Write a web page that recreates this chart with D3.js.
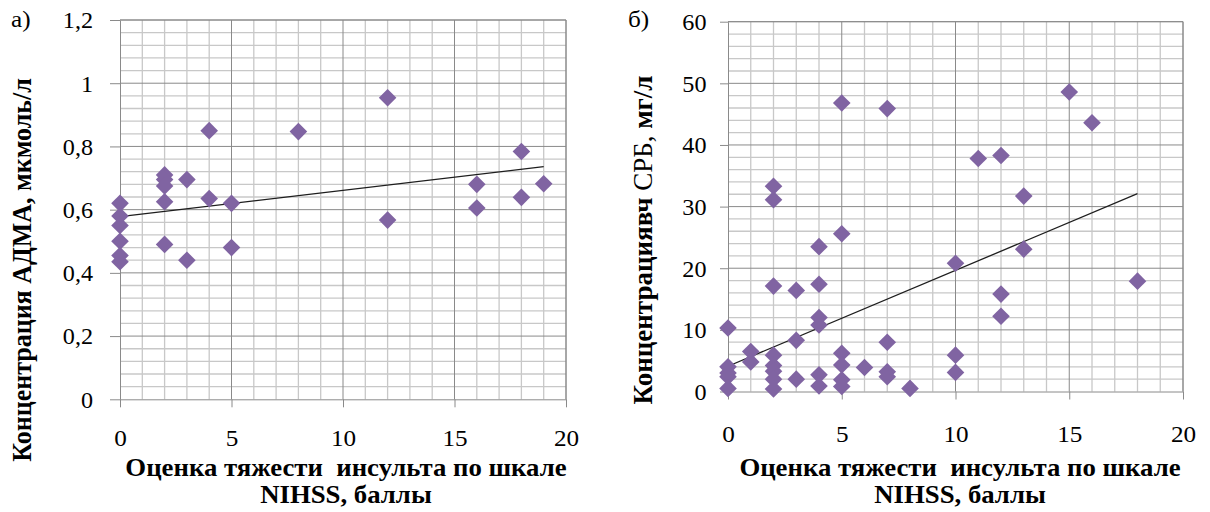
<!DOCTYPE html>
<html lang="ru">
<head>
<meta charset="utf-8">
<script src="https://cdn.jsdelivr.net/npm/d3@7"></script>
<style>
  html, body { margin: 0; padding: 0; background: #fff; }
  svg { display: block; }
  text { font-family: "Liberation Serif", "Times New Roman", serif; fill: #000; white-space: pre; }
</style>
</head>
<body>
<svg id="chart" width="1210" height="512"></svg>
<script>
// ---- Panel а): ADMA vs NIHSS ----
const admaX = [0, 0, 0, 0, 0, 0, 2, 2, 2, 2, 2, 3, 3, 4, 4, 5, 5, 8, 12, 12, 16, 16, 18, 18, 19];
const admaY = [0.62, 0.58, 0.55, 0.50, 0.455, 0.435, 0.71, 0.695, 0.675, 0.625, 0.49, 0.695, 0.44,
               0.85, 0.635, 0.62, 0.48, 0.847, 0.954, 0.567, 0.68, 0.605, 0.784, 0.639, 0.682];
const admaTrendX = [0, 19];
const admaTrendY = [0.578, 0.736];
const admaYTicks = [0, 0.2, 0.4, 0.6, 0.8, 1, 1.2];
const admaYLabels = ["0", "0,2", "0,4", "0,6", "0,8", "1", "1,2"];

// ---- Panel б): hs-CRP vs NIHSS ----
const crpX = [0, 0, 0, 0, 0, 1, 1, 2, 2, 2, 2, 2, 2, 2, 2, 3, 3, 3, 4, 4, 4, 4, 4, 4,
              5, 5, 5, 5, 5, 5, 6, 7, 7, 7, 7, 8, 10, 10, 10, 11, 12, 12, 12, 13, 13, 15, 16, 18];
const crpY = [10.3, 4.0, 3.0, 2.4, 0.5, 6.5, 4.8, 33.3, 31.1, 17.1, 5.9, 4.2, 3.3, 2.0, 0.4,
              16.4, 8.3, 2.0, 23.5, 17.4, 12.0, 10.8, 2.7, 0.9, 46.8, 25.6, 6.2, 4.3, 1.9, 0.8,
              3.9, 45.9, 8.0, 3.2, 2.4, 0.5, 20.8, 5.9, 3.1, 37.8, 38.3, 15.8, 12.2, 31.7, 23.1,
              48.6, 43.6, 17.9];
const crpTrendX = [0, 18];
const crpTrendY = [4.1, 32.1];
const crpYTicks = [0, 10, 20, 30, 40, 50, 60];
const crpYLabels = ["0", "10", "20", "30", "40", "50", "60"];

// ---- shared x axis ----
const nihssTicks = [0, 5, 10, 15, 20];
const nihssLabels = ["0", "5", "10", "15", "20"];
const xTitle1 = "Оценка тяжести  инсульта по шкале";
const xTitle2 = "NIHSS, баллы";

const FONT = '"Liberation Serif", "Times New Roman", serif';
const MARK = "#8064A2";
const MAJOR = "#8a8a8a";
const MINOR = "#c8c8c8";
const SX = 1.05; // slight horizontal widening of glyphs

const svg = d3.select("#chart");

function stretchX(sel, ax, ay) {
  sel.attr("transform", `translate(${ax},${ay}) scale(${SX},1) translate(${-ax},${-ay})`);
}

function drawPanel(p) {
  const g = svg.append("g");
  const x = d3.scaleLinear().domain([0, 20]).range([p.left, p.right]);
  const y = d3.scaleLinear().domain([0, p.yMax]).range([p.bottom, p.top]);

  // minor grid
  const xMinor = d3.range(0, 20.001, 1).filter(v => v % 5 !== 0);
  const yMinor = d3.range(0, p.yMax + p.yMinor / 2, p.yMinor)
    .filter(v => Math.abs(v / p.yMajor - Math.round(v / p.yMajor)) > 1e-6);
  g.append("g").selectAll("line").data(xMinor).join("line")
    .attr("x1", d => x(d)).attr("x2", d => x(d)).attr("y1", p.top).attr("y2", p.bottom)
    .attr("stroke", MINOR).attr("stroke-width", 1.3);
  g.append("g").selectAll("line").data(yMinor).join("line")
    .attr("x1", p.left).attr("x2", p.right).attr("y1", d => y(d)).attr("y2", d => y(d))
    .attr("stroke", MINOR).attr("stroke-width", 1.3);
  // major grid
  g.append("g").selectAll("line").data(nihssTicks.slice(1)).join("line")
    .attr("x1", d => x(d)).attr("x2", d => x(d)).attr("y1", p.top).attr("y2", p.bottom)
    .attr("stroke", MAJOR).attr("stroke-width", 1);
  g.append("g").selectAll("line").data(p.yTicks.slice(1)).join("line")
    .attr("x1", p.left).attr("x2", p.right).attr("y1", d => y(d)).attr("y2", d => y(d))
    .attr("stroke", MAJOR).attr("stroke-width", 1);

  // axes
  const ya = g.append("g").attr("transform", `translate(${p.left},0)`)
    .call(d3.axisLeft(y).tickValues(p.yTicks).tickSize(p.yTickLen).tickSizeOuter(0)
      .tickFormat((d, i) => p.yLabels[i]));
  const xa = g.append("g").attr("transform", `translate(0,${p.bottom})`)
    .call(d3.axisBottom(x).tickValues(nihssTicks).tickSize(8).tickSizeOuter(0)
      .tickFormat((d, i) => nihssLabels[i]));
  [ya, xa].forEach(a => {
    a.attr("font-family", FONT).attr("font-size", null);
    a.select(".domain").attr("stroke", MAJOR);
    a.selectAll(".tick line").attr("stroke", MAJOR);
    a.selectAll("text").attr("fill", "#000").style("font-family", FONT);
  });
  ya.selectAll(".tick text")
    .attr("x", p.yLabelX - p.left).attr("dy", "0.34em")
    .style("font-size", p.yFont + "px")
    .each(function () { stretchX(d3.select(this), p.yLabelX - p.left, 0); });
  xa.selectAll(".tick text")
    .attr("y", p.xLabelBase - p.bottom).attr("dy", "0")
    .style("font-size", p.xFont + "px")
    .each(function () { stretchX(d3.select(this), 0, 0); });

  // trend line
  g.append("line")
    .attr("x1", x(p.trendX[0])).attr("y1", y(p.trendY[0]))
    .attr("x2", x(p.trendX[1])).attr("y2", y(p.trendY[1]))
    .attr("stroke", "#1e1e1e").attr("stroke-width", 1.3);

  // markers (diamonds)
  const sym = d3.symbol(d3.symbolSquare, 155)();
  g.append("g").selectAll("path").data(p.xs.map((v, i) => [v, p.ys[i]])).join("path")
    .attr("d", sym)
    .attr("transform", d => `translate(${x(d[0])},${y(d[1])}) rotate(45)`)
    .attr("fill", MARK);

  // top and right frame
  g.append("path")
    .attr("d", `M${p.left},${p.top}H${p.right}V${p.bottom}`)
    .attr("fill", "none").attr("stroke", MAJOR);

  // panel letter
  const lt = g.append("text").attr("x", p.letterX).attr("y", 27)
    .style("font-size", "24px").text(p.letter);
  stretchX(lt, p.letterX, 27);

  // x title (two lines)
  const cx = p.titleCx;
  [[xTitle1, 476], [xTitle2, 503]].forEach(([s, yb]) => {
    const t = g.append("text").attr("x", cx).attr("y", yb)
      .attr("text-anchor", "middle")
      .style("font-size", "25.5px").style("font-weight", "bold").text(s);
    stretchX(t, cx, yb);
  });

  // y title (rotated)
  const yt = g.append("text")
    .attr("transform", `translate(${p.yTitleX},${p.yTitleCy}) scale(${SX},1) rotate(-90)`)
    .attr("text-anchor", "middle")
    .style("font-size", p.yTitleFont + "px");
  p.yTitle.forEach(([s, bold]) => {
    yt.append("tspan").style("font-weight", bold ? "bold" : "normal").text(s);
  });
}

drawPanel({
  left: 120, right: 566, top: 20, bottom: 399.3,
  yMax: 1.2, yMajor: 0.2, yMinor: 0.04,
  yTicks: admaYTicks, yLabels: admaYLabels,
  yTickLen: 10, yLabelX: 93, yFont: 23,
  xLabelBase: 446.5, xFont: 24,
  xs: admaX, ys: admaY, trendX: admaTrendX, trendY: admaTrendY,
  letter: "а)", letterX: 11,
  titleCx: 346,
  yTitleX: 31, yTitleCy: 270, yTitleFont: 26,
  yTitle: [["Концентрация АДМА, мкмоль/л", true]]
});

drawPanel({
  left: 728, right: 1183, top: 21.7, bottom: 391.5,
  yMax: 60, yMajor: 10, yMinor: 2,
  yTicks: crpYTicks, yLabels: crpYLabels,
  yTickLen: 8, yLabelX: 706.5, yFont: 23,
  xLabelBase: 442, xFont: 24,
  xs: crpX, ys: crpY, trendX: crpTrendX, trendY: crpTrendY,
  letter: "б)", letterX: 628,
  titleCx: 960,
  yTitleX: 652, yTitleCy: 240, yTitleFont: 27,
  yTitle: [["Концентрациявч", true], [" СРБ, ", false], ["мг/л", true]]
});
</script>
</body>
</html>
